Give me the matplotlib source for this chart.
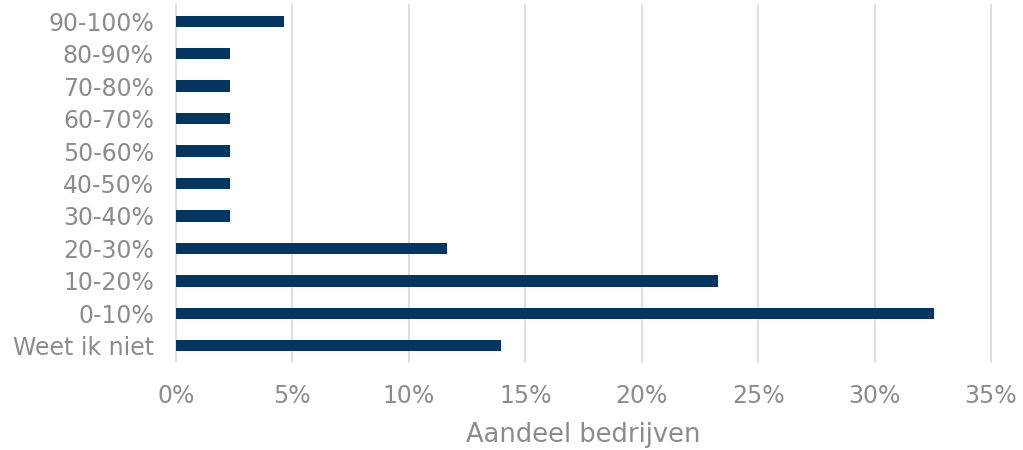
import matplotlib.pyplot as plt
from matplotlib.ticker import PercentFormatter

categories = ["Weet ik niet", "0-10%", "10-20%", "20-30%", "30-40%", "40-50%",
              "50-60%", "60-70%", "70-80%", "80-90%", "90-100%"]
shares = [13.95, 32.56, 23.26, 11.63, 2.33, 2.33, 2.33, 2.33, 2.33, 2.33, 4.65]

grey = "#8c8c8c"

fig = plt.figure(figsize=(10.23, 4.5), dpi=100)
ax = fig.add_axes([176 / 1023, 1 - 362 / 450, (991 - 176) / 1023, 357 / 450])

ax.barh(categories, shares, height=0.35, color="#033661", zorder=3)

ax.set_xlim(0, 35)
ax.set_ylim(-0.5, len(categories) - 0.5)
ax.set_xticks(range(0, 36, 5))
ax.xaxis.set_major_formatter(PercentFormatter(decimals=0))
ax.grid(axis="x", color="#d9d9d9", linewidth=1.2, zorder=0)
for line in ax.get_xgridlines():
    line.set_clip_on(False)

for s in ax.spines.values():
    s.set_visible(False)
ax.tick_params(length=0, labelsize=17, labelcolor=grey)
ax.tick_params(axis="x", pad=16)
ax.tick_params(axis="y", pad=16)

ax.set_xlabel("Aandeel bedrijven", fontsize=18.5, color=grey, labelpad=10)

fig.savefig("out.png", dpi=100)
